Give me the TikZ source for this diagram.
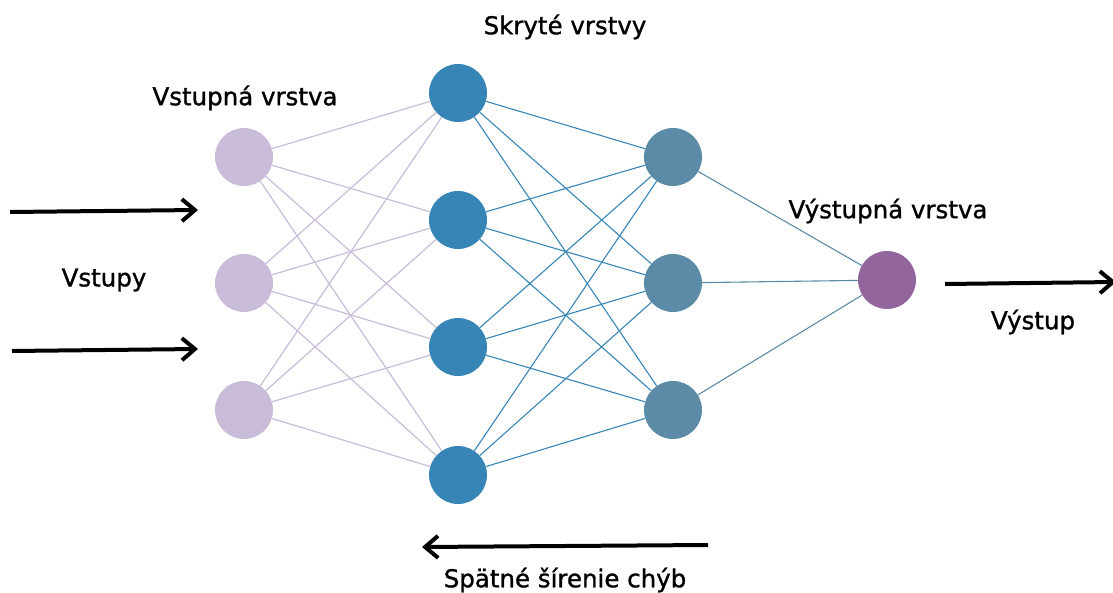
\documentclass[tikz,border=0pt]{standalone}
\usepackage{fontspec}
\setmainfont{DejaVu Sans}
\newfontfamily\lblfont[FakeBold=1.2]{DejaVu Sans}
\usetikzlibrary{arrows.meta}
\definecolor{inpc}{HTML}{C8BCD9}
\definecolor{hidA}{HTML}{3785B6}
\definecolor{hidB}{HTML}{5B8BA6}
\definecolor{outc}{HTML}{93659D}
\pgfdeclarelayer{wires}
\pgfsetlayers{wires,main}
\begin{document}
\begin{tikzpicture}[x=1pt,y=-1pt,
  neuron/.style={circle,minimum size=58pt,inner sep=0pt,draw=none},
  lbl/.style={font=\lblfont\fontsize{24.5}{28}\selectfont,text=black,inner sep=0pt},
  flow/.style={line width=4pt,-{Straight Barb[length=13pt,width=22pt,line width=4pt]}},
  edgeA/.style={draw=inpc,line width=1.2pt},
  edgeB/.style={draw=hidA,line width=1.1pt},
  edgeC/.style={draw=hidB,line width=1.1pt}]
\useasboundingbox (0,0) rectangle (1113,593);
% input layer
\foreach \i/\y in {1/157,2/283,3/410}
  \node[neuron,fill=inpc] (i\i) at (244,\y) {};
% first hidden layer
\foreach \i/\y in {1/93,2/220,3/347,4/475}
  \node[neuron,fill=hidA] (h\i) at (458,\y) {};
% second hidden layer
\foreach \i/\y in {1/157,2/283,3/410}
  \node[neuron,fill=hidB] (g\i) at (673,\y) {};
% output neuron
\node[neuron,fill=outc] (o) at (887,280) {};
% connections, kept behind the neurons
\begin{pgfonlayer}{wires}
\foreach \a in {1,2,3}
  \foreach \b in {1,2,3,4}
    \draw[edgeA] (i\a) -- (h\b);
\foreach \a in {1,2,3,4}
  \foreach \b in {1,2,3}
    \draw[edgeB] (h\a) -- (g\b);
\foreach \a in {1,2,3}
  \draw[edgeC] (g\a) -- (o);
\end{pgfonlayer}
% labels
\node[lbl] (tIn) at (245,98) {Vstupná vrstva};
\node[lbl] (tHid) at (565,27) {Skryté vrstvy};
\node[lbl] (tOut) at (888,211) {Výstupná vrstva};
\node[lbl] (tX) at (104,280) {Vstupy};
\node[lbl] (tY) at (1033,322) {Výstup};
\node[lbl] (tBP) at (565,580) {Spätné šírenie chýb};
% arrows
\coordinate (a1s) at (10,212); \coordinate (a1e) at (198,210);
\coordinate (a2s) at (12,351); \coordinate (a2e) at (198,349);
\coordinate (a3s) at (945,284); \coordinate (a3e) at (1116,282);
\coordinate (a4s) at (708,545); \coordinate (a4e) at (422,547);
\draw[flow] (a1s) -- (a1e);
\draw[flow] (a2s) -- (a2e);
\draw[flow] (a3s) -- (a3e);
\draw[flow] (a4s) -- (a4e);
\end{tikzpicture}
\end{document}
